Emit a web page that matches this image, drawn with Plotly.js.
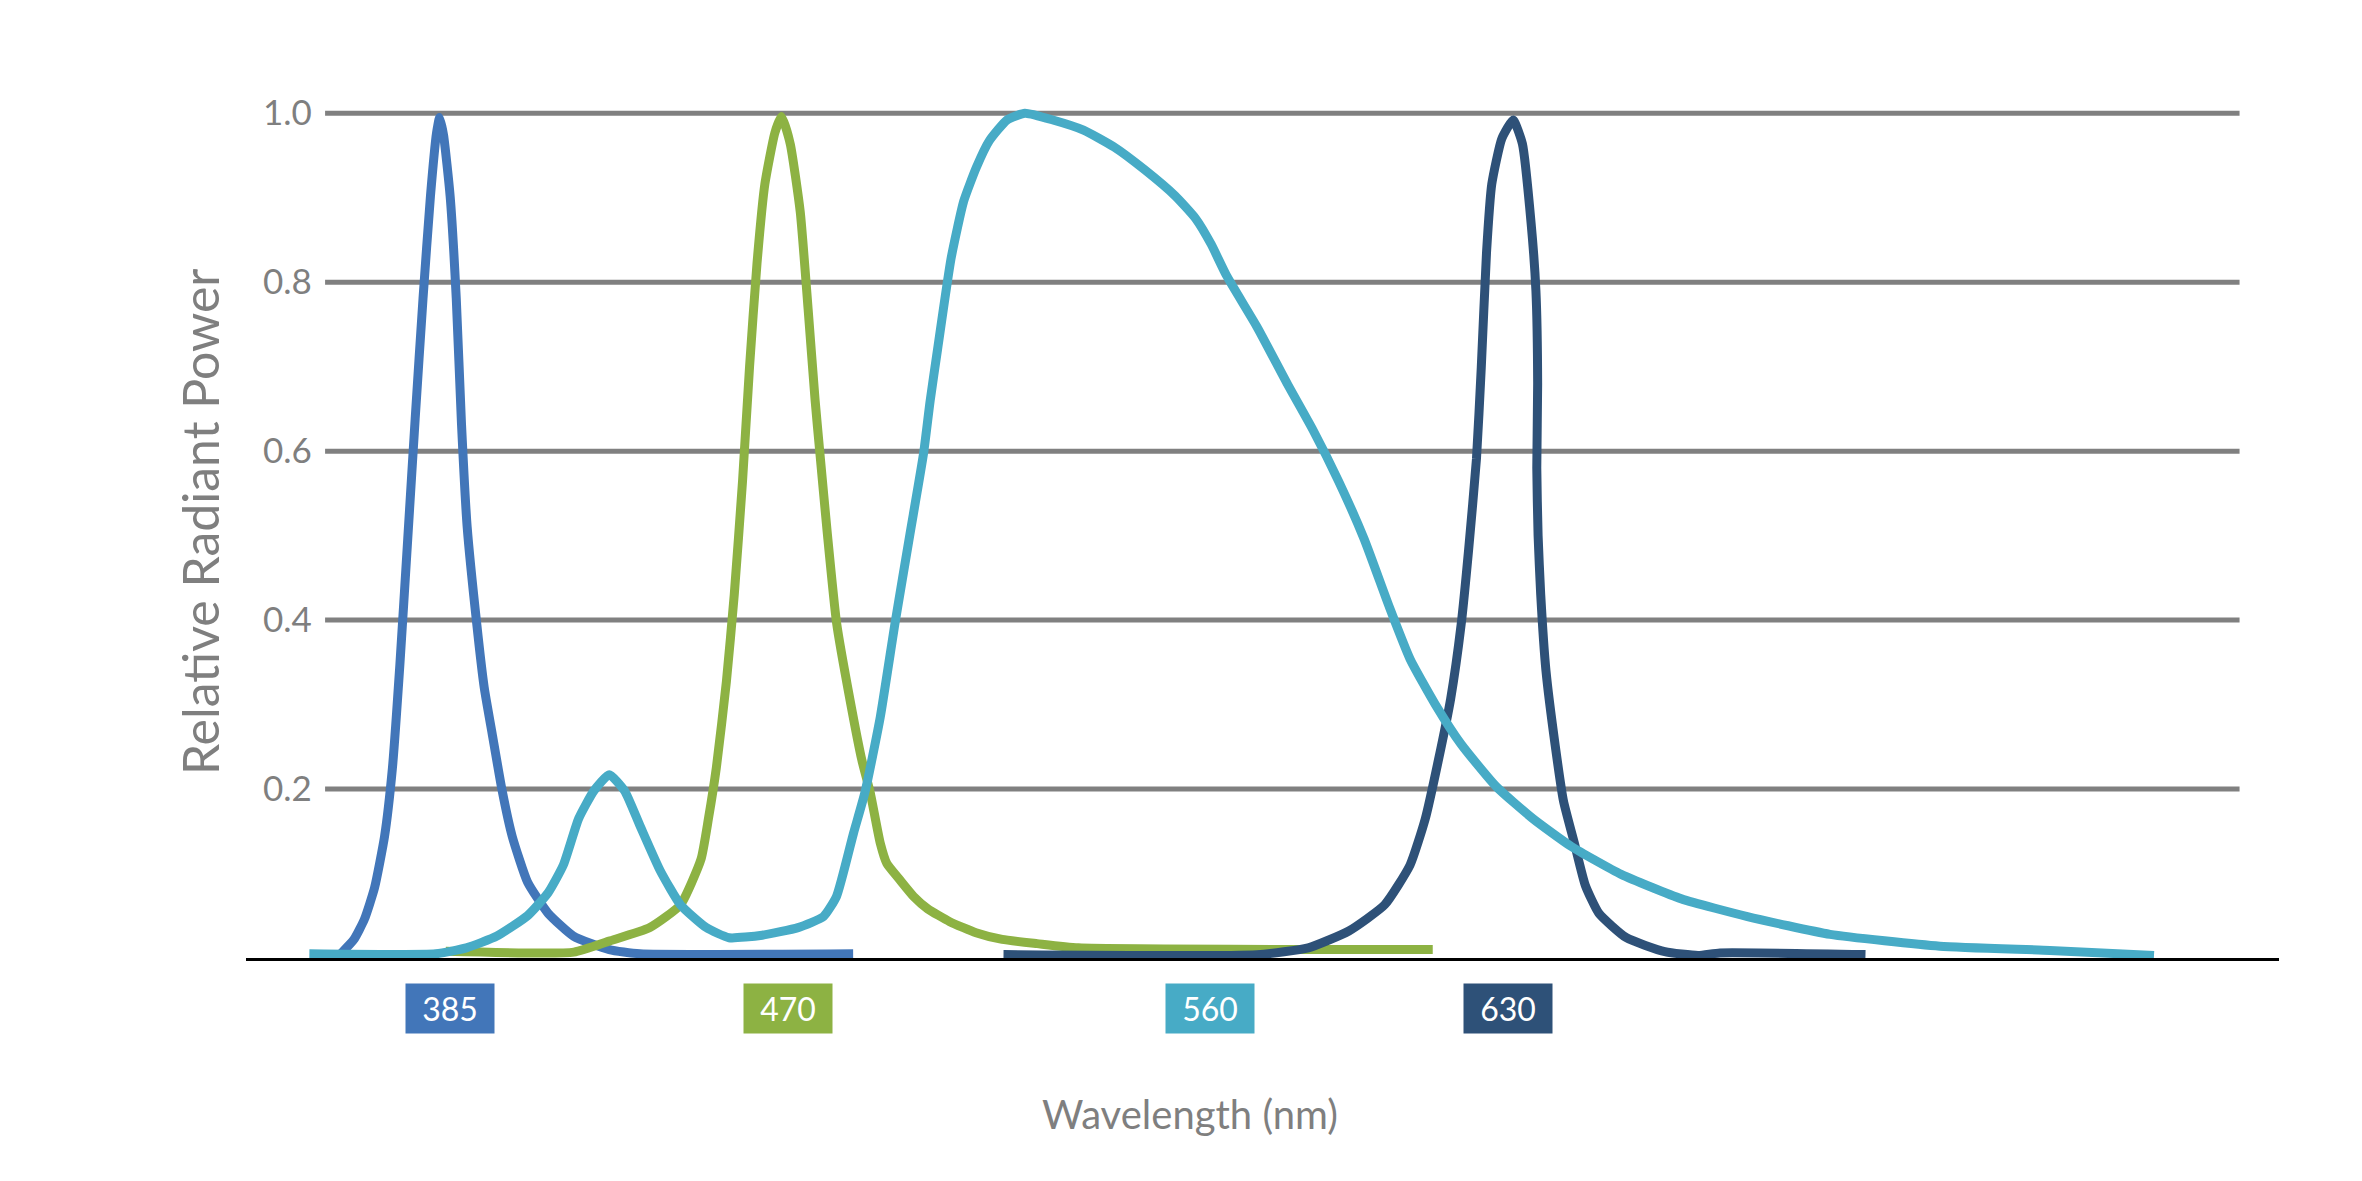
<!DOCTYPE html>
<html>
<head>
<meta charset="utf-8">
<script src="https://cdn.plot.ly/plotly-3.0.1.min.js"></script>
<style>html,body{margin:0;padding:0;background:#fff;}#chart{width:2362px;height:1181px;}</style>
</head>
<body>
<div id="chart"></div>
<script>
// ---- data (wavelength in nm, relative radiant power) ----
const seriesNames = ['385', '470', '560', '630'];

const wl385 = [362.5, 365.7, 368.1, 370.4, 372.7, 374.5, 376.2, 378.0, 379.7, 381.5, 383.2, 384.6, 385.3, 386.2, 387.7, 389.1, 390.3, 391.6, 393.8, 395.5, 397.3, 399.6, 401.9, 405.4, 410.1, 415.9, 424.1, 431.1, 479.9];
const p385  = [0.004, 0.022, 0.046, 0.083, 0.144, 0.225, 0.347, 0.496, 0.638, 0.781, 0.902, 0.977, 0.995, 0.974, 0.902, 0.781, 0.632, 0.510, 0.395, 0.320, 0.266, 0.198, 0.144, 0.090, 0.053, 0.026, 0.010, 0.005, 0.005];

const wl470 = [386.7, 416.0, 424.1, 433.4, 440.4, 445.1, 446.8, 448.6, 450.9, 452.7, 454.6, 456.2, 457.9, 459.7, 462.0, 463.5, 465.5, 467.8, 469.6, 471.2, 472.3, 474.0, 476.1, 479.2, 481.9, 483.8, 486.1, 487.6, 490.5, 493.7, 497.0, 502.0, 508.0, 514.0, 522.0, 531.4, 612.5];
const p470  = [0.008, 0.007, 0.020, 0.036, 0.063, 0.117, 0.165, 0.225, 0.327, 0.430, 0.565, 0.700, 0.822, 0.916, 0.977, 0.996, 0.964, 0.883, 0.768, 0.660, 0.597, 0.502, 0.397, 0.305, 0.234, 0.196, 0.136, 0.112, 0.093, 0.073, 0.058, 0.043, 0.030, 0.022, 0.017, 0.012, 0.010];

const wl560 = [355.5, 384.4, 391.4, 398.4, 405.4, 410.1, 413.6, 417.1, 420.6, 424.1, 427.6, 431.1, 435.8, 440.4, 446.3, 451.5, 459.1, 467.3, 473.1, 476.1, 480.0, 482.6, 486.1, 489.5, 492.9, 496.0, 497.5, 499.2, 502.3, 505.2, 508.1, 511.0, 515.1, 519.2, 525.6, 532.6, 539.6, 546.6, 553.6, 558.3, 561.8, 565.3, 572.3, 579.3, 585.1, 591.0, 596.8, 602.6, 607.3, 613.1, 619.0, 627.0, 635.4, 644.2, 655.6, 669.4, 684.5, 703.4, 728.5, 753.7, 777.5];
const p560  = [0.005, 0.005, 0.012, 0.026, 0.050, 0.077, 0.110, 0.165, 0.198, 0.217, 0.198, 0.157, 0.103, 0.063, 0.036, 0.024, 0.027, 0.036, 0.049, 0.073, 0.148, 0.196, 0.285, 0.397, 0.502, 0.597, 0.659, 0.720, 0.828, 0.896, 0.936, 0.967, 0.992, 1.000, 0.992, 0.980, 0.960, 0.933, 0.902, 0.875, 0.845, 0.808, 0.747, 0.679, 0.625, 0.564, 0.496, 0.415, 0.354, 0.300, 0.253, 0.203, 0.165, 0.132, 0.099, 0.070, 0.049, 0.028, 0.014, 0.009, 0.003];

const wl630 = [514.3, 572.3, 584.0, 593.3, 601.5, 607.3, 610.8, 613.7, 616.6, 619.0, 620.7, 622.5, 623.6, 624.8, 626.0, 628.3, 630.9, 633.0, 635.0, 636.1, 636.5, 636.3, 636.6, 637.2, 638.4, 640.5, 642.4, 644.9, 647.4, 650.5, 656.8, 665.6, 673.2, 678.2, 711.5];
const p630  = [0.004, 0.004, 0.012, 0.032, 0.063, 0.110, 0.165, 0.232, 0.307, 0.395, 0.483, 0.591, 0.699, 0.835, 0.916, 0.970, 0.992, 0.964, 0.870, 0.790, 0.680, 0.580, 0.500, 0.430, 0.340, 0.252, 0.186, 0.136, 0.086, 0.053, 0.024, 0.0075, 0.003, 0.006, 0.004];

const yTickVals = [0.2, 0.4, 0.6, 0.8, 1.0];
const yTickText = ['0.2', '0.4', '0.6', '0.8', '1.0'];

// ---- styling ----
const colors = {'385': '#4276b9', '470': '#8db243', '560': '#47abc6', '630': '#2e5178'};
const FONT = 'Lato, "Noto Sans", sans-serif';
const GRAY = '#7f7f7f';

function line(name, x, y) {
  return {type: 'scatter', mode: 'lines', name: name, x: x, y: y,
    line: {color: colors[name], width: 9, shape: 'spline', smoothing: 0.5},
    hoverinfo: 'skip', showlegend: false};
}
const traces = [
  line('385', wl385, p385),
  line('470', wl470, p470),
  line('630', wl630, p630),
  line('560', wl560, p560)
];

const shapes = yTickVals.map(v => ({
  type: 'line', xref: 'paper', yref: 'y', x0: 0.0389, x1: 0.9806, y0: v, y1: v,
  line: {color: '#808080', width: 5}, layer: 'below'
}));

const labelX = {'385': 387.6, '470': 465.0, '560': 561.5, '630': 629.8};
const annotations = seriesNames.map(n => ({
  xref: 'x', yref: 'paper', x: labelX[n], y: -0.0569, xanchor: 'center', yanchor: 'middle',
  text: n, showarrow: false, bgcolor: colors[n], width: 88, height: 49, borderpad: 0,
  font: {family: FONT, size: 32, color: '#ffffff'}
}));
annotations.push({
  xref: 'paper', yref: 'paper', x: -0.0226, y: 0.4915, xanchor: 'center', yanchor: 'middle',
  text: 'Relative Radiant Power', textangle: -90, showarrow: false,
  font: {family: FONT, size: 50, color: GRAY}
});
annotations.push({
  xref: 'paper', yref: 'paper', x: 0.4643, y: -0.1759, xanchor: 'center', yanchor: 'middle',
  text: 'Wavelength (nm)', showarrow: false,
  font: {family: FONT, size: 40, color: GRAY}
});

const layout = {
  width: 2362, height: 1181, autosize: false,
  margin: {l: 246, r: 83, t: 71, b: 223, pad: 0},
  paper_bgcolor: '#ffffff', plot_bgcolor: '#ffffff',
  font: {family: FONT, color: GRAY},
  xaxis: {range: [341.0, 806.1], showgrid: false, zeroline: false, showticklabels: false,
    ticks: '', showline: true, linecolor: '#000000', linewidth: 3, fixedrange: true},
  yaxis: {range: [0, 1.05], tickmode: 'array', tickvals: yTickVals, ticktext: yTickText,
    showgrid: false, zeroline: false, showline: false, ticks: '',
    ticklabelposition: 'inside', ticklabelstandoff: 14,
    tickfont: {family: FONT, size: 35, color: GRAY}, fixedrange: true},
  shapes: shapes,
  annotations: annotations,
  showlegend: false
};

Plotly.newPlot('chart', traces, layout, {displayModeBar: false, staticPlot: true});
</script>
</body>
</html>
